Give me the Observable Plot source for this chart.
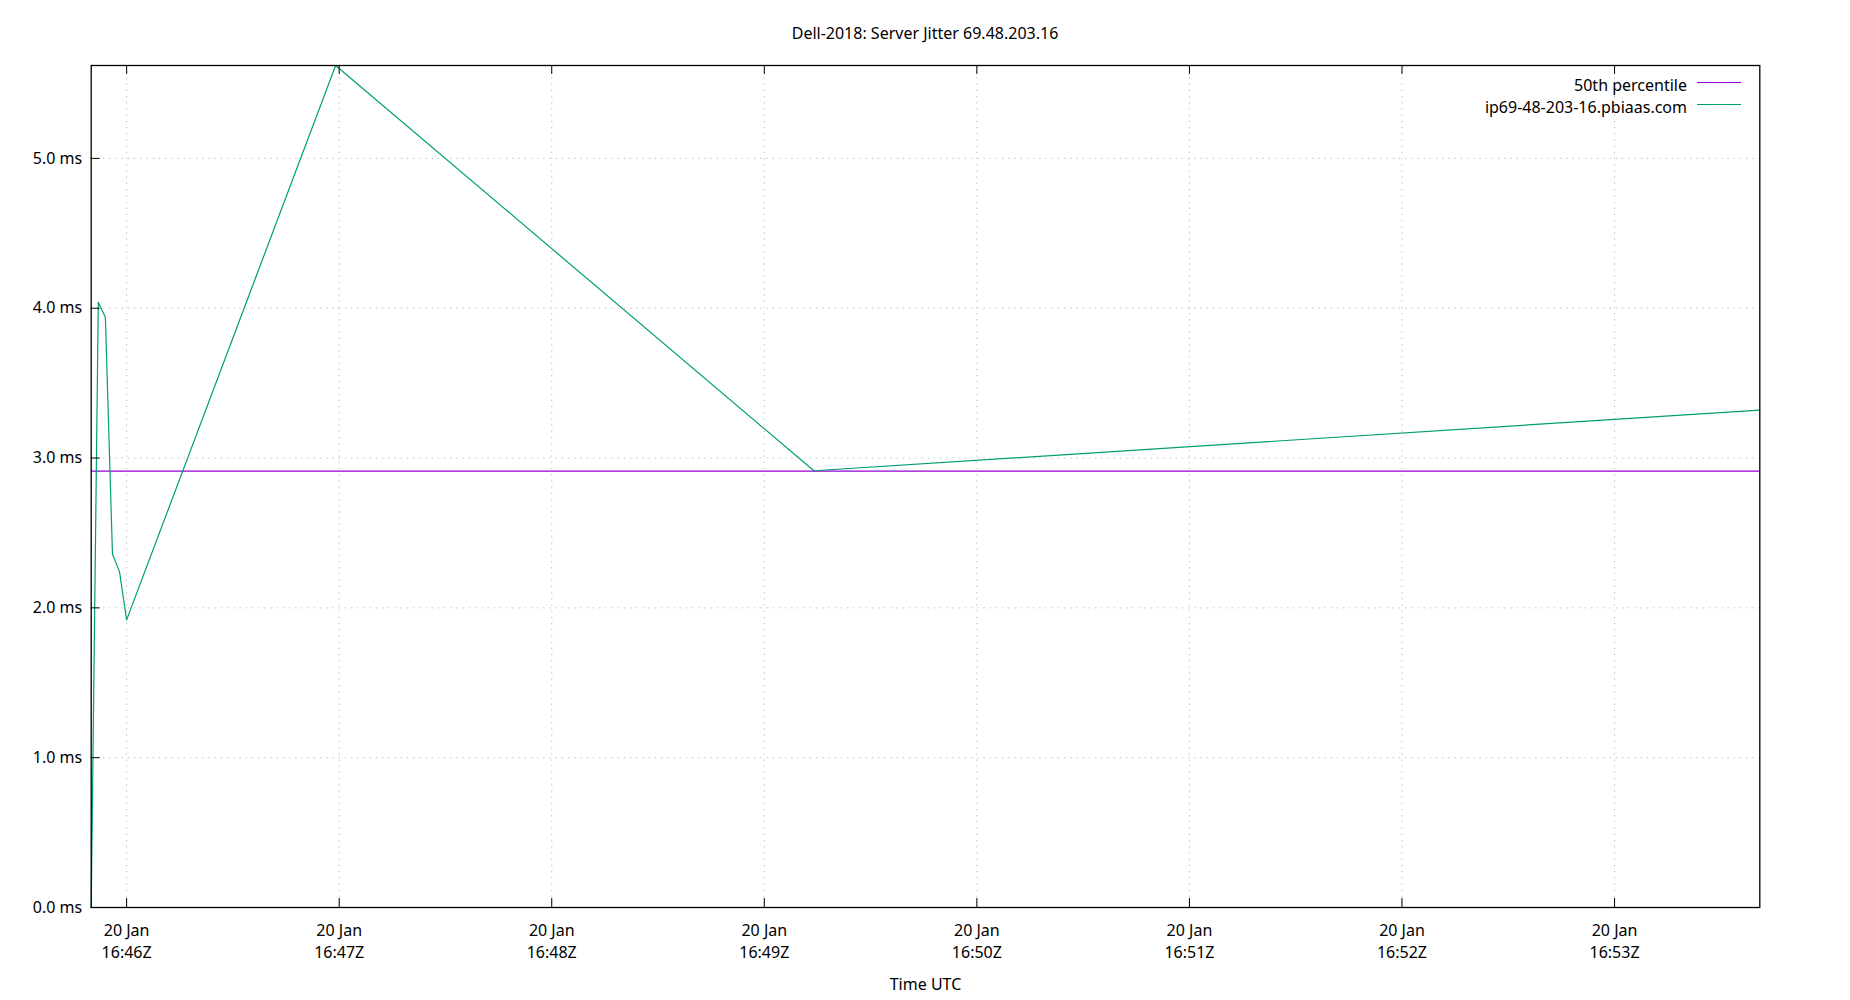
<!DOCTYPE html>
<html>
<head>
<meta charset="utf-8">
<script src="https://cdn.jsdelivr.net/npm/d3@7"></script>
<script src="https://cdn.jsdelivr.net/npm/@observablehq/plot@0.6"></script>
<style>
  html, body { margin: 0; padding: 0; background: #fff; }
  body { font-family: "Noto Sans", sans-serif; }
  #wrap { position: relative; width: 1850px; height: 1000px; }
  #title { position: absolute; left: 0; top: 22px; width: 1850px; text-align: center; font-size: 16px; line-height: 22px; color: #000; }
  #legend { position: absolute; right: 109px; top: 74px; font-size: 16px; line-height: 22px; color: #000; }
  .row { display: flex; align-items: center; justify-content: flex-end; height: 22px; }
  .sw { width: 44px; height: 0; margin-left: 10px; border-top: 1px solid; margin-top: -6px; }
</style>
</head>
<body>
<div id="wrap">
  <div id="chart"></div>
  <div id="title">Dell-2018: Server Jitter 69.48.203.16</div>
  <div id="legend"></div>
</div>
<script>
// ---- data ----
const times = [
  "2025-01-20T16:45:50Z",
  "2025-01-20T16:45:52Z",
  "2025-01-20T16:45:54Z",
  "2025-01-20T16:45:56Z",
  "2025-01-20T16:45:58Z",
  "2025-01-20T16:46:00Z",
  "2025-01-20T16:46:59Z",
  "2025-01-20T16:49:14Z",
  "2025-01-20T16:53:41Z"
];
const jitterMs = [0.0, 4.04, 3.94, 2.36, 2.24, 1.92, 5.62, 2.915, 3.32];
const medianMs = 2.913;
const seriesNames = ["50th percentile", "ip69-48-203-16.pbiaas.com"];
const seriesColors = ["#9400d3", "#009e73"];
const xTickTimes = ["16:46", "16:47", "16:48", "16:49", "16:50", "16:51", "16:52", "16:53"];
const yTicks = [0, 1, 2, 3, 4, 5];

// ---- build ----
const data = times.map((t, i) => ({time: new Date(t), ms: jitterMs[i]}));
const xTicks = xTickTimes.map(s => new Date(`2025-01-20T${s}:00Z`));

const W = 1850, H = 1000;
const mL = 90.7, mR = 90.7, mT = 65, mB = 93;
const frameW = W - mL - mR, frameH = H - mT - mB;
const tk = 9;
const gridStyle = {stroke: "#b8b8b8", strokeOpacity: 1, strokeDasharray: "1.2,5", strokeWidth: 1};

const chart = Plot.plot({
  width: W, height: H,
  marginLeft: mL, marginRight: mR, marginTop: mT, marginBottom: mB,
  style: {fontFamily: "Noto Sans", fontSize: "16px", color: "#000", background: "#fff"},
  x: {type: "utc", domain: d3.extent(data, d => d.time)},
  y: {domain: [0, d3.max(jitterMs)]},
  marks: [
    Plot.gridX(xTicks, gridStyle),
    Plot.gridY(yTicks, gridStyle),
    Plot.ruleY([medianMs], {stroke: seriesColors[0], strokeWidth: 1.2}),
    Plot.line(data, {x: "time", y: "ms", stroke: seriesColors[1], strokeWidth: 1.2}),
    // inward ticks (bottom/top/left)
    Plot.ruleX(xTicks, {x: d => d, stroke: "#000", insetTop: frameH - tk}),
    Plot.ruleX(xTicks, {x: d => d, stroke: "#000", insetBottom: frameH - tk}),
    Plot.ruleY(yTicks, {y: d => d, stroke: "#000", insetRight: frameW - tk}),
    Plot.frame({stroke: "#000", strokeWidth: 1.3}),
    Plot.axisY(yTicks, {anchor: "left", tickSize: 0, tickPadding: 9, label: null,
      tickFormat: d => d3.format(".1f")(d) + " ms", fontSize: 16}),
    Plot.axisX(xTicks, {anchor: "bottom", tickSize: 0, tickPadding: 17.5, label: null,
      tickFormat: d3.utcFormat("%d %b"), fontSize: 16}),
    Plot.axisX(xTicks, {anchor: "bottom", tickSize: 0, tickPadding: 39, label: null,
      tickFormat: d3.utcFormat("%H:%MZ"), fontSize: 16}),
    Plot.axisX({anchor: "bottom", ticks: [], tickSize: 0, label: "Time UTC", labelAnchor: "center",
      labelArrow: "none", labelOffset: 82, fontSize: 16})
  ]
});
document.getElementById("chart").appendChild(chart);

// legend
const legend = document.getElementById("legend");
seriesNames.forEach((name, i) => {
  const row = document.createElement("div");
  row.className = "row";
  const label = document.createElement("span");
  label.textContent = name;
  const sw = document.createElement("span");
  sw.className = "sw";
  sw.style.borderTopColor = seriesColors[i];
  row.appendChild(label);
  row.appendChild(sw);
  legend.appendChild(row);
});
</script>
</body>
</html>
